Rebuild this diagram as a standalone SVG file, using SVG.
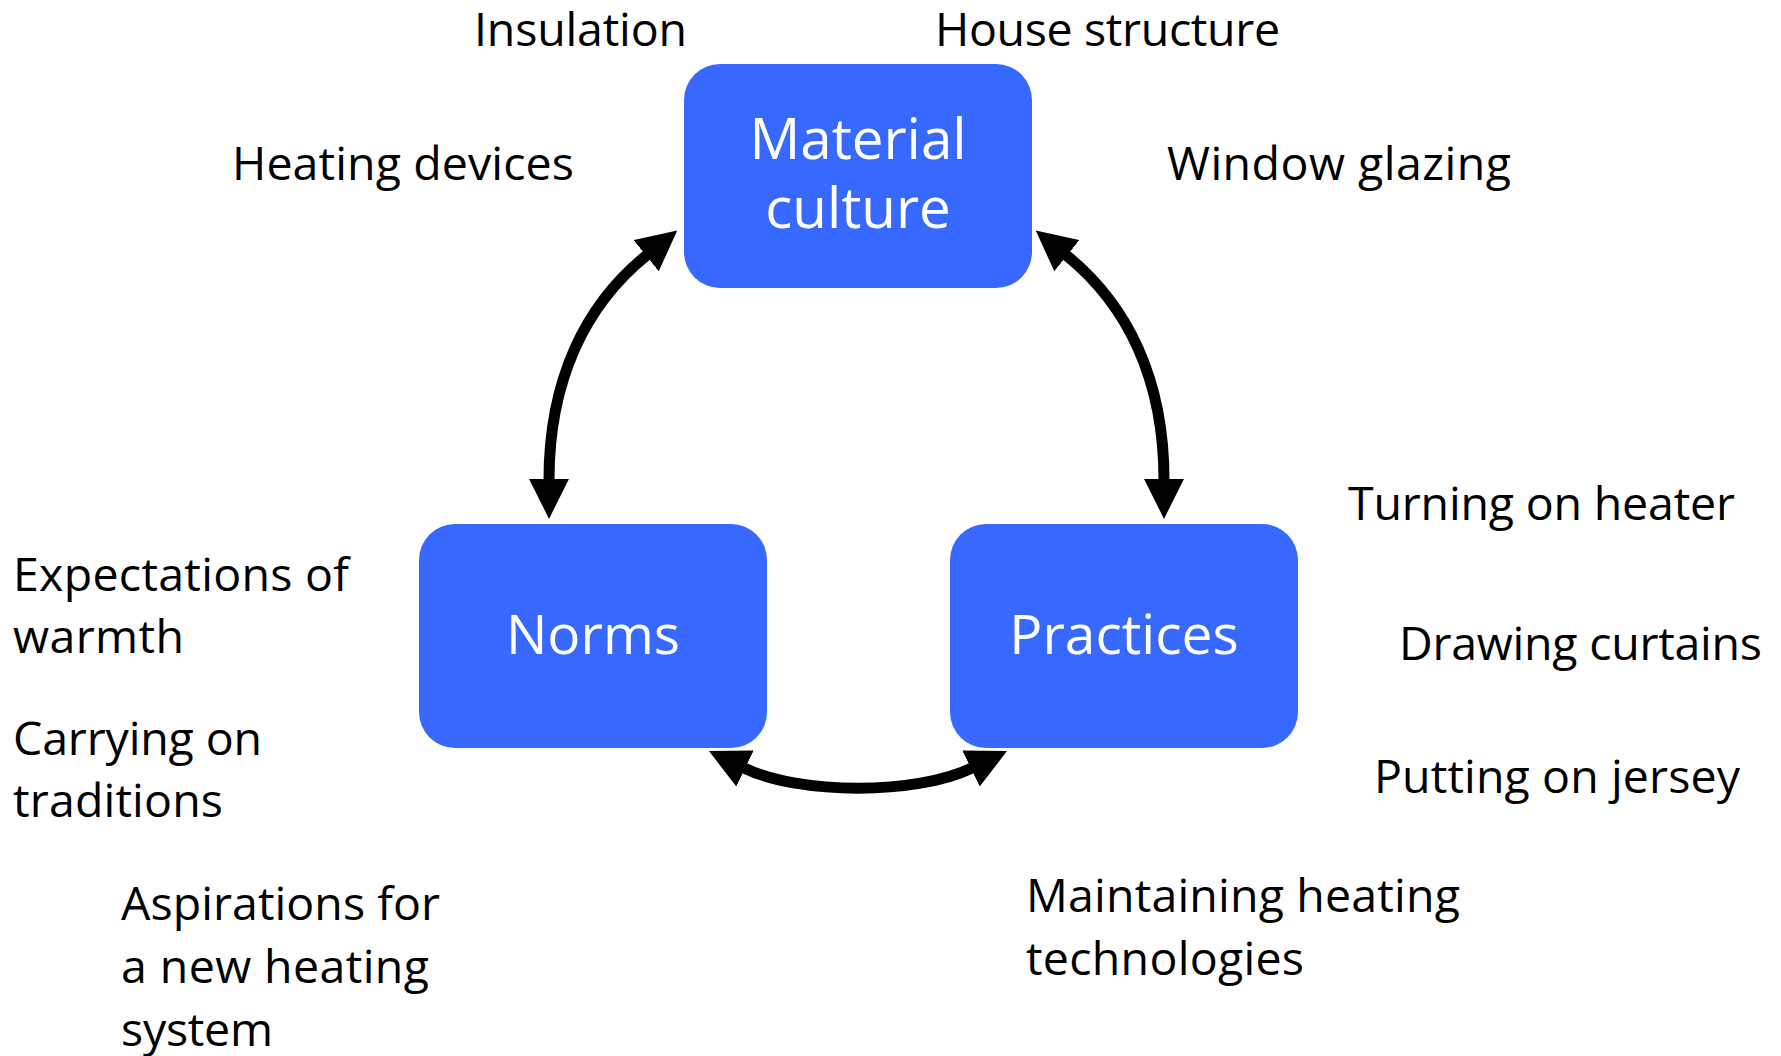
<svg xmlns="http://www.w3.org/2000/svg" width="1781" height="1056" viewBox="0 0 1781 1056">
<style>
.box{fill:#3768FF}
.bt{font-family:"Open Sans","Liberation Sans",sans-serif;font-size:55px;fill:#FFFFFF;text-anchor:middle}
.bt2{font-size:56.5px}
.lb{font-family:"Open Sans","Liberation Sans",sans-serif;font-size:46.5px;fill:#000000}
.conn{fill:none;stroke:#000000;stroke-width:11}
</style>
<defs>
<marker id="ah" markerUnits="userSpaceOnUse" markerWidth="40" markerHeight="40" viewBox="0 0 36 36" refX="1" refY="18" orient="auto-start-reverse">
<path d="M0,0 L36,18 L0,36 z" fill="#000000"/>
</marker>
</defs>
<rect width="1781" height="1056" fill="#FFFFFF"/>
<g id="connectors">
<path class="conn" d="M549 480 C549 380 585 305 647 255" marker-start="url(#ah)" marker-end="url(#ah)"/>
<path class="conn" d="M1164 480 C1164 380 1128 305 1066 255" marker-start="url(#ah)" marker-end="url(#ah)"/>
<path class="conn" d="M744 768 C800 795 916 795 972 768" marker-start="url(#ah)" marker-end="url(#ah)"/>
</g>
<g id="material-culture">
<rect class="box" x="684" y="64" width="348" height="224" rx="36" ry="36"/>
<text class="bt bt2" x="858" y="159">Material</text>
<text class="bt bt2" x="858" y="228">culture</text>
</g>
<g id="norms">
<rect class="box" x="419" y="524" width="348" height="224" rx="36" ry="36"/>
<text class="bt" x="593" y="654">Norms</text>
</g>
<g id="practices">
<rect class="box" x="950" y="524" width="348" height="224" rx="36" ry="36"/>
<text class="bt" x="1124" y="654">Practices</text>
</g>
<g id="labels">
<text class="lb" x="474" y="46" textLength="213">Insulation</text>
<text class="lb" x="935" y="46" textLength="345">House structure</text>
<text class="lb" x="232" y="180" textLength="342">Heating devices</text>
<text class="lb" x="1167" y="180" textLength="344">Window glazing</text>
<text class="lb" x="1348" y="520" textLength="387">Turning on heater</text>
<text class="lb" x="1399" y="660" textLength="363">Drawing curtains</text>
<text class="lb" x="1374" y="793" textLength="366">Putting on jersey</text>
<text class="lb" x="13" y="591" textLength="336">Expectations of</text>
<text class="lb" x="13" y="653" textLength="171">warmth</text>
<text class="lb" x="13" y="755" textLength="249">Carrying on</text>
<text class="lb" x="13" y="817" textLength="210">traditions</text>
<text class="lb" x="121" y="920" textLength="319">Aspirations for</text>
<text class="lb" x="121" y="983" textLength="308">a new heating</text>
<text class="lb" x="121" y="1046" textLength="152">system</text>
<text class="lb" x="1026" y="912" textLength="434">Maintaining heating</text>
<text class="lb" x="1026" y="975" textLength="278">technologies</text>
</g>
</svg>
